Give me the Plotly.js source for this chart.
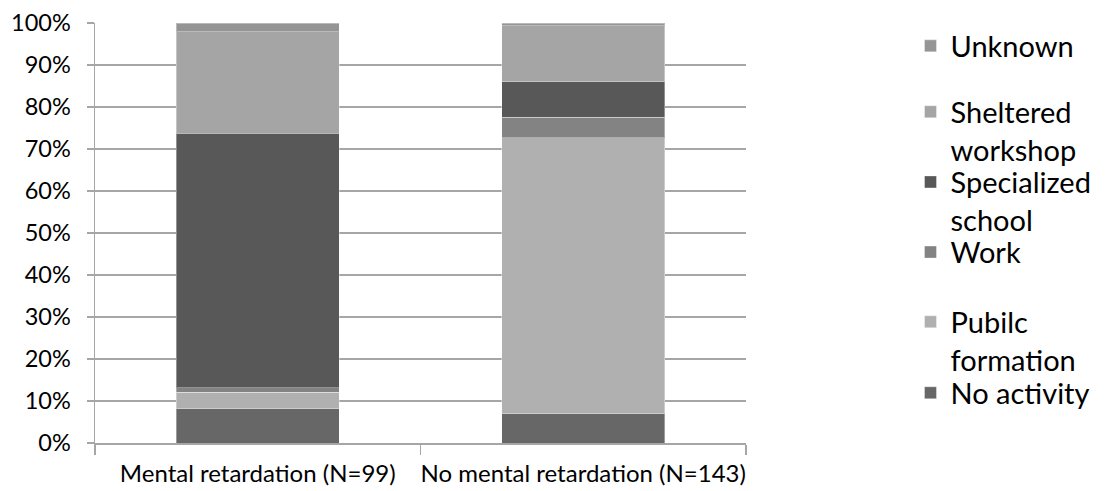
<!DOCTYPE html>
<html>
<head>
<meta charset="utf-8">
<script src="https://cdn.plot.ly/plotly-3.0.1.min.js"></script>
<style>html,body{margin:0;padding:0;background:#fff;}#chart{width:1108px;height:491px;}</style>
</head>
<body>
<div id="chart"></div>
<script>
var categories = ['Mental retardation (N=99)', 'No mental retardation (N=143)'];
var noActivity = [0.081, 0.070];
var publicFormation = [0.040, 0.657];
var work = [0.010, 0.049];
var specializedSchool = [0.606, 0.084];
var shelteredWorkshop = [0.242, 0.133];
var unknown = [0.020, 0.007];
var seriesNames = ['No activity', 'Pubilc<br>formation', 'Work', 'Specialized<br>school', 'Sheltered<br>workshop', 'Unknown'];
var yTickVals = [0, 0.1, 0.2, 0.3, 0.4, 0.5, 0.6, 0.7, 0.8, 0.9, 1.0];
var yTickText = ['0%', '10%', '20%', '30%', '40%', '50%', '60%', '70%', '80%', '90%', '100%'];

var seriesValues = [noActivity, publicFormation, work, specializedSchool, shelteredWorkshop, unknown];
var colors = ['#676767', '#b0b0b0', '#838383', '#585858', '#a5a5a5', '#959595'];
var legendIds = ['legend6', 'legend5', 'legend4', 'legend3', 'legend2', 'legend7'];
var legendY = [0.180, 0.349, 0.515, 0.682, 0.849, 1.006];

var font = 'Lato, "Open Sans", sans-serif';
var traces = seriesValues.map(function (vals, i) {
  return {
    type: 'bar',
    x: categories,
    y: vals,
    name: seriesNames[i],
    legend: legendIds[i],
    showlegend: true,
    marker: {color: colors[i], line: {color: 'rgba(255,255,255,0.35)', width: 1}},
    hoverinfo: 'name+y'
  };
});

var layout = {
  width: 1108,
  height: 491,
  barmode: 'stack',
  bargap: 0.5,
  showlegend: true,
  paper_bgcolor: '#ffffff',
  plot_bgcolor: '#ffffff',
  font: {family: font, size: 22, color: '#000000'},
  margin: {l: 95, r: 360, t: 23, b: 48, pad: 0},
  xaxis: {
    type: 'category',
    showline: true,
    linecolor: '#a6a6a6',
    linewidth: 1.5,
    ticks: 'outside',
    tickson: 'boundaries',
    ticklen: 10,
    tickcolor: '#a6a6a6',
    tickwidth: 1.5,
    tickangle: 0,
    ticklabelstandoff: 9,
    showgrid: false,
    tickfont: {family: font, size: 24, color: '#000'}
  },
  yaxis: {
    range: [0, 1],
    tickvals: yTickVals,
    ticktext: yTickText,
    showline: true,
    linecolor: '#a6a6a6',
    linewidth: 1.5,
    ticks: 'outside',
    ticklen: 7,
    tickcolor: '#a6a6a6',
    tickwidth: 1.5,
    showgrid: true,
    gridcolor: '#a6a6a6',
    gridwidth: 1.5,
    zeroline: false,
    ticklabelstandoff: 11,
    tickfont: {family: font, size: 23.5, color: '#000'}
  },
  legend: {visible: false}
};
legendIds.forEach(function (id, i) {
  layout[id] = {
    x: 1.2527,
    xanchor: 'left',
    y: legendY[i],
    yanchor: 'top',
    valign: 'top',
    bgcolor: 'rgba(0,0,0,0)',
    borderwidth: 0,
    font: {family: font, size: 29, color: '#000'}
  };
});

Plotly.newPlot('chart', traces, layout, {displayModeBar: false, staticPlot: true});
</script>
</body>
</html>
